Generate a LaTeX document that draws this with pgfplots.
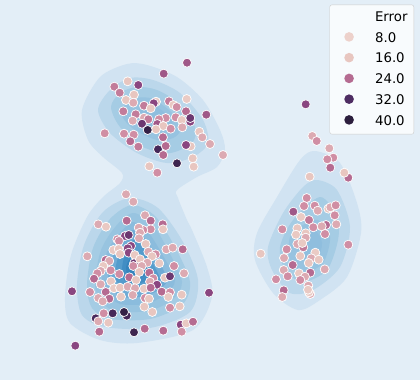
\documentclass[border=0pt]{standalone}
\usepackage{fontspec}
\setmainfont{DejaVu Sans}
\usepackage{pgfplots}
\pgfplotsset{compat=1.18}
\definecolor{bgc}{HTML}{E3EEF7}
\definecolor{k1}{HTML}{D1E3F2}
\definecolor{k2}{HTML}{BBD7EB}
\definecolor{k3}{HTML}{A5CCE4}
\definecolor{k4}{HTML}{8BBCDD}
\definecolor{k5}{HTML}{6FABD5}
\definecolor{k6}{HTML}{559CCC}
\definecolor{k7}{HTML}{428EC4}
\definecolor{k8}{HTML}{3584BD}
\definecolor{e8}{RGB}{237,209,203}
\definecolor{e16}{RGB}{232,198,192}
\definecolor{e24}{RGB}{181,107,145}
\definecolor{e32}{RGB}{78,44,98}
\definecolor{e40}{RGB}{44,30,61}
\pgfplotsset{colormap={err}{rgb255(8)=(237,209,203) rgb255(16)=(232,198,192) rgb255(20)=(208,142,164) rgb255(24)=(181,107,145) rgb255(28)=(138,70,128) rgb255(32)=(78,44,98) rgb255(40)=(44,30,61)}}
\begin{document}
\begin{tikzpicture}
\begin{axis}[
  width=420pt, height=380pt, scale only axis,
  xmin=0, xmax=420, ymin=0, ymax=380, y dir=reverse,
  hide axis, clip=true,
  point meta min=8, point meta max=40,
  legend style={at={(axis cs:414,4.7)}, anchor=north east, fill=white!75!bgc, draw=black!20,
    rounded corners=2pt, font=\fontsize{13.3}{15}\selectfont,
    inner xsep=6.3pt, inner ysep=6.5pt, row sep=8.2pt,
    nodes={inner sep=0pt, text height=10pt, text depth=2.5pt},
    /tikz/every odd column/.append style={column sep=13pt}},
  legend cell align=left,
  every axis plot post/.append style={forget plot},
]
\addplot[fill=bgc, draw=none] coordinates {(0,0) (420,0) (420,380) (0,380)} -- cycle;
% kde levels, left pair of blobs
\addplot[fill=k1, draw=none, smooth cycle] coordinates {(127,64) (147,65) (177,77) (203,100) (220,130) (225,150) (217,167) (197,177) (177,190) (178,198) (187,220) (192,230) (207,267) (212,297) (193,330) (137,343) (100,340) (70,323) (65,297) (71,255) (87,217) (103,197) (120,183) (122,173) (103,157) (88,140) (82,110) (100,77)};
\addplot[fill=k2, draw=none, smooth cycle] coordinates {(98,110) (110,90) (130,78) (153,80) (180,93) (203,120) (208,143) (193,157) (167,163) (137,153) (110,133)};
\addplot[fill=k3, draw=none, smooth cycle] coordinates {(111,107) (120,93) (137,87) (157,90) (178,103) (195,127) (192,143) (170,153) (143,147) (120,127)};
\addplot[fill=k4!55!k3, draw=none, smooth cycle] coordinates {(123,107) (137,98) (153,99) (172,113) (180,130) (173,138) (157,140) (135,130) (123,118)};
\addplot[fill=k4!85!k3, draw=none, smooth cycle] coordinates {(140,108) (152,105) (165,113) (173,125) (165,130) (150,127) (140,118)};
\addplot[fill=k2, draw=none, smooth cycle] coordinates {(77,285) (84,245) (103,212) (130,198) (158,208) (183,242) (198,280) (190,312) (150,328) (105,327) (82,315)};
\addplot[fill=k3, draw=none, smooth cycle] coordinates {(87,285) (93,248) (110,219) (132,205) (155,216) (175,247) (190,282) (182,305) (150,319) (110,319) (92,308)};
\addplot[fill=k4!50!k3, draw=none, smooth cycle] coordinates {(95,283) (101,250) (116,226) (133,213) (152,224) (168,250) (182,282) (172,300) (148,311) (115,311) (100,300)};
\addplot[fill=k4, draw=none, smooth cycle] coordinates {(102,281) (107,252) (120,233) (133,222) (148,232) (162,254) (175,280) (165,295) (145,304) (120,304) (107,294)};
\addplot[fill=k5, draw=none, smooth cycle] coordinates {(108,279) (113,255) (123,239) (133,230) (145,239) (157,258) (167,280) (157,291) (140,297) (122,297) (112,289)};
\addplot[fill=k6, draw=none, smooth cycle] coordinates {(115,276) (118,258) (127,246) (134,240) (143,247) (152,262) (160,280) (150,287) (133,290) (122,288)};
\addplot[fill=k7, draw=none, smooth cycle] coordinates {(122,272) (124,258) (131,250) (138,252) (146,264) (152,277) (140,283) (126,282)};
\addplot[fill=k8, draw=none, smooth cycle] coordinates {(126,268) (129,260) (135,258) (141,266) (145,275) (136,277) (128,275)};
% right blob
\addplot[fill=k1, draw=none, smooth cycle] coordinates {(315,151) (340,163) (357,203) (361,233) (347,277) (320,300) (298,310) (273,293) (255,260) (257,233) (277,197) (300,160)};
\addplot[fill=k2, draw=none, smooth cycle] coordinates {(317,180) (337,190) (350,227) (340,267) (313,290) (290,293) (272,270) (268,247) (283,213) (303,187)};
\addplot[fill=k3, draw=none, smooth cycle] coordinates {(320,197) (337,217) (338,240) (327,270) (303,282) (285,270) (280,247) (293,220)};
\addplot[fill=k4!55!k3, draw=none, smooth cycle] coordinates {(318,220) (330,237) (323,263) (303,273) (290,260) (290,237) (303,225)};
\addplot[fill=k4!85!k3, draw=none, smooth cycle] coordinates {(315,230) (322,243) (317,260) (305,260) (300,250) (295,237) (305,232)};
% points, meta is the error value
\addplot[scatter, only marks, mark=*, mark size=4.5pt, point meta=explicit,
  colormap name=err, line width=0.7pt,
  scatter/use mapped color={draw=white, fill=mapped color}] coordinates {
(126,194.3) [18] (133.3,201.7) [18] (145,215.3) [18] (150.7,220.7) [24] (126.7,220.7) [24]
(98.3,224.3) [18] (106,226.7) [14] (162.7,224.3) [24] (163,229.3) [16] (150.7,229.3) [20]
(143.3,230) [20] (138.7,227.7) [18] (125,236) [28] (128.7,235) [30] (140,232.7) [18]
(139,238.3) [18] (117.3,239.3) [20] (119,241) [20] (145.7,244) [16] (131,246) [28]
(127.7,248.3) [28] (113.3,250) [14] (118.7,249) [16] (128.7,252.7) [28] (120,254) [16]
(134.7,255) [14] (148.3,251.7) [18] (155.7,254.3) [20] (152,256.3) [16] (166.3,249.3) [18]
(172.7,247.7) [18] (182.7,249.3) [24] (87.3,256.3) [18] (105.7,260) [24] (109.3,261) [18]
(134,263.3) [30] (140,259.3) [16] (147.3,262.7) [18] (159.3,263.3) [14] (133.3,266) [20]
(141.7,266) [18] (174,266) [20] (103.3,266) [14] (110.7,270.3) [20] (100.7,271) [18]
(97.3,273.3) [20] (139.3,272) [16] (149.3,272.7) [24] (119.3,274) [20] (184,273.3) [18]
(94,278.7) [24] (129.3,277.3) [24] (136,280) [16] (153.3,278.3) [20] (150,281.7) [18]
(165,277.7) [16] (170,276.3) [30] (111,281.3) [16] (100.7,284.3) [18] (157,284.7) [28]
(72,291.3) [28] (90,292) [20] (105.7,292) [24] (114,288.3) [12] (120,287.7) [16]
(127.7,286.7) [18] (135,288.3) [18] (144,288.7) [14] (150.7,287.7) [24] (161.7,291.7) [24]
(170,292.3) [20] (168.3,297) [14] (181.7,294.7) [16] (209,292.7) [28] (132.7,295) [18]
(121,296.7) [14] (145,298) [20] (149,298.7) [16] (109.3,298.7) [24] (98.3,298) [18]
(102.7,301.3) [18] (144.3,306.7) [16] (170,307.7) [20] (179.7,306.3) [16] (152.3,312) [16]
(126.7,315.7) [34] (124,312) [38] (112.7,313.3) [34] (95.7,318.3) [33] (103.7,313.3) [20]
(98.3,321.3) [18] (108.3,322.7) [16] (180.7,324.7) [28] (186.3,323.3) [14] (193,321.7) [24]
(181.7,331.7) [20] (144.7,328.7) [24] (134,332.3) [36] (163.3,330.7) [24] (99.3,331.7) [24]
(75.3,345.7) [28]
(187,62.7) [26] (163.7,73.7) [26] (127.7,81.3) [16] (138.3,85) [28] (114.3,86.7) [22]
(119.7,92.7) [22] (134,94.7) [16] (126,100) [16] (133.3,102.7) [18] (156,101.7) [14]
(153.7,103.3) [28] (144,105.7) [22] (169,101.3) [22] (173.3,105) [14] (176.7,107) [20]
(186.7,99) [12] (150.7,108.3) [14] (123.3,111.3) [22] (186,111.3) [24] (206.3,114.7) [26]
(135.7,114.3) [22] (144,117.7) [18] (175.7,117.3) [20] (132.7,120.7) [18] (148.3,119.3) [22]
(165.7,118) [20] (159,119.3) [20] (181.7,120) [14] (190.3,121.7) [28] (190.3,118) [30]
(142,123.7) [30] (157.3,124) [26] (163.3,126) [16] (156,129.3) [16] (170.7,128.7) [20]
(182.3,127.3) [18] (147.7,130) [38] (199.3,131.7) [16] (202.3,137.3) [18] (104.7,133.3) [20]
(124,133.7) [20] (133.7,134.7) [20] (130.3,141.3) [24] (138.3,146.7) [22] (163,137.3) [24]
(210,144) [18] (190.7,146.3) [16] (186,145) [28] (165.7,146) [24] (158,149.3) [34]
(163.3,155) [24] (223,155) [18] (192.7,158.3) [16] (193.7,166.7) [16] (177,163.3) [36]
(149.3,166.3) [16] (157.3,172.7) [20]
(305.7,104.3) [28] (312.3,136) [18] (316.7,141) [20] (329.3,148.3) [18] (333.3,157.7) [20]
(327.3,159.3) [20] (330.3,167.7) [24] (348.3,177.7) [24] (344.3,172.7) [16] (309.7,176.7) [16]
(306.7,198) [20] (304,206) [20] (314.7,205.7) [20] (317.7,210.7) [18] (328.3,208.7) [16]
(330.3,207.3) [18] (335.7,205.3) [20] (334.7,215.3) [20] (293.3,211.7) [26] (301,217) [12]
(309,220) [22] (336.3,224.3) [18] (282.3,229.3) [20] (297.3,228.3) [16] (326,225) [24]
(313.3,227.3) [20] (321.7,226.3) [18] (325,234) [20] (305.7,233.3) [16] (296,234.7) [14]
(305.7,237.7) [18] (348.3,244.7) [20] (260.7,253.7) [16] (297.3,244) [18] (303.3,247.3) [22]
(302.3,243) [14] (286.7,249.3) [20] (315.3,252.7) [12] (300.3,256) [16] (284,258) [18]
(311.3,258.3) [18] (318.7,259.7) [16] (308.7,263) [16] (292.7,265) [24] (283.7,270) [18]
(324.7,269.3) [18] (310.3,272.7) [24] (299,273.3) [14] (287.7,276.3) [20] (276,279.3) [20]
(305,276.7) [18] (300.3,280) [20] (308.3,285.7) [18] (283.7,290.3) [24] (282.3,297) [18]
(310.3,294) [18] (309,292.3) [12] (308,289.7) [14]
};
\addlegendimage{legend image code/.code={}}
\addlegendentry{Error}
\addlegendimage{legend image code/.code={\path[draw=none] (-13pt,0pt) -- (13pt,0pt); \fill[e8,draw=none] (0pt,1.5pt) circle (4.8pt);}}
\addlegendentry{8.0}
\addlegendimage{legend image code/.code={\path[draw=none] (-13pt,0pt) -- (13pt,0pt); \fill[e16,draw=none] (0pt,1.5pt) circle (4.8pt);}}
\addlegendentry{16.0}
\addlegendimage{legend image code/.code={\path[draw=none] (-13pt,0pt) -- (13pt,0pt); \fill[e24,draw=none] (0pt,1.5pt) circle (4.8pt);}}
\addlegendentry{24.0}
\addlegendimage{legend image code/.code={\path[draw=none] (-13pt,0pt) -- (13pt,0pt); \fill[e32,draw=none] (0pt,1.5pt) circle (4.8pt);}}
\addlegendentry{32.0}
\addlegendimage{legend image code/.code={\path[draw=none] (-13pt,0pt) -- (13pt,0pt); \fill[e40,draw=none] (0pt,1.5pt) circle (4.8pt);}}
\addlegendentry{40.0}
\end{axis}
\end{tikzpicture}
\end{document}
